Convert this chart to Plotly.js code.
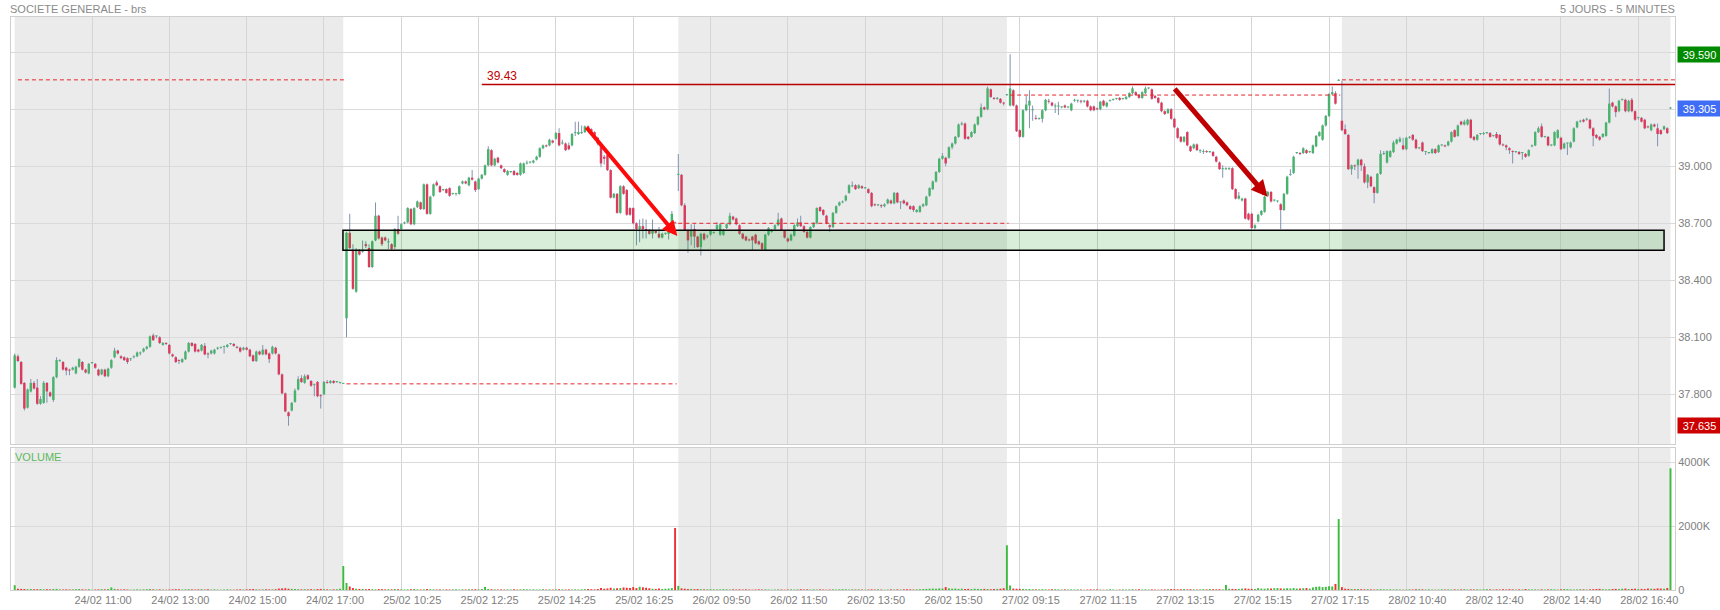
<!DOCTYPE html>
<html><head><meta charset="utf-8">
<script src="https://cdn.plot.ly/plotly-3.0.1.min.js"></script>
<style>html,body{margin:0;padding:0;background:#fff;}#chart{width:1720px;height:610px;}</style>
</head><body><div id="chart"></div>
<script>
// ---- data: 5-minute candles [open, high, low, close], one array per session ----
const bars2402 = [
[37.835,38.015,37.830,38.005],[38.000,38.010,37.970,37.975],[37.970,37.975,37.850,37.855],[37.860,37.865,37.715,37.725],[37.730,37.830,37.725,37.825],[37.815,37.880,37.810,37.860],[37.860,37.870,37.825,37.830],[37.835,37.880,37.745,37.750],[37.750,37.790,37.745,37.775],[37.755,37.870,37.750,37.860],
[37.860,37.865,37.755,37.815],[37.810,37.815,37.785,37.790],[37.770,37.895,37.760,37.890],[37.890,37.995,37.885,37.980],[37.975,37.985,37.970,37.980],[37.970,37.975,37.925,37.930],[37.940,37.945,37.900,37.925],[37.930,37.935,37.900,37.925],[37.930,37.945,37.925,37.940],[37.910,37.950,37.905,37.945],
[37.945,37.990,37.940,37.985],[37.970,37.975,37.925,37.930],[37.930,37.935,37.910,37.915],[37.910,37.965,37.905,37.960],[37.965,37.970,37.960,37.965],[37.960,37.965,37.935,37.940],[37.930,37.935,37.895,37.900],[37.905,37.935,37.900,37.930],[37.930,37.935,37.890,37.895],[37.895,37.940,37.890,37.935],
[37.940,37.985,37.935,37.980],[37.995,38.045,37.990,38.030],[38.030,38.035,38.010,38.015],[38.000,38.005,37.985,37.990],[37.995,38.000,37.975,37.980],[37.990,37.995,37.960,37.970],[37.985,37.990,37.975,37.985],[37.995,38.005,37.990,38.000],[38.000,38.025,37.995,38.020],[38.015,38.025,38.005,38.015],
[38.025,38.045,38.020,38.040],[38.040,38.055,38.035,38.050],[38.050,38.110,38.045,38.105],[38.110,38.120,38.080,38.085],[38.105,38.110,38.095,38.105],[38.100,38.105,38.065,38.070],[38.060,38.075,38.055,38.070],[38.070,38.075,38.060,38.065],[38.060,38.065,38.010,38.015],[38.010,38.015,37.995,38.000],
[37.995,38.000,37.965,37.970],[37.980,37.985,37.960,37.975],[37.970,37.990,37.965,37.985],[37.985,38.030,37.980,38.025],[38.025,38.075,38.020,38.070],[38.070,38.075,38.050,38.055],[38.065,38.070,38.020,38.025],[38.035,38.040,38.020,38.025],[38.030,38.065,38.025,38.060],[38.055,38.070,38.005,38.010],
[38.015,38.020,37.990,38.010],[38.015,38.035,38.010,38.030],[38.015,38.040,38.010,38.035],[38.040,38.050,38.035,38.045],[38.045,38.050,38.040,38.045],[38.050,38.055,38.015,38.050],[38.050,38.065,38.045,38.060],[38.065,38.070,38.060,38.065],[38.065,38.070,38.050,38.055],[38.050,38.055,38.040,38.045],
[38.045,38.050,38.020,38.025],[38.035,38.050,38.030,38.045],[38.045,38.050,38.030,38.035],[38.035,38.040,37.995,38.000],[38.005,38.010,37.970,37.975],[37.975,38.030,37.970,38.025],[38.025,38.030,38.005,38.010],[38.010,38.060,38.005,38.035],[38.035,38.040,38.005,38.010],[38.015,38.020,37.965,37.985],
[38.015,38.055,38.010,38.050],[38.045,38.050,38.010,38.015],[38.010,38.015,37.900,37.905],[37.905,37.910,37.800,37.805],[37.805,37.810,37.705,37.710],[37.705,37.710,37.635,37.685],[37.715,37.760,37.710,37.755],[37.760,37.830,37.755,37.820],[37.825,37.895,37.820,37.880],[37.885,37.900,37.860,37.865],
[37.860,37.905,37.855,37.895],[37.900,37.905,37.875,37.880],[37.870,37.875,37.840,37.845],[37.850,37.855,37.790,37.850],[37.865,37.870,37.785,37.790],[37.795,37.800,37.725,37.790],[37.800,37.870,37.795,37.865],[37.865,37.875,37.855,37.860],[37.860,37.875,37.855,37.870],[37.870,37.875,37.855,37.860],
[37.865,37.870,37.860,37.865],[37.860,37.865,37.855,37.860],[37.855,37.860,37.855,37.855]
];
const bars2502 = [
[38.200,38.655,38.100,38.650],[38.650,38.750,38.565,38.570],[38.560,38.590,38.350,38.355],[38.340,38.570,38.335,38.560],[38.560,38.565,38.530,38.535],[38.550,38.610,38.545,38.560],[38.590,38.605,38.570,38.580],[38.570,38.590,38.465,38.470],[38.470,38.610,38.465,38.605],[38.610,38.810,38.605,38.740],
[38.740,38.745,38.615,38.620],[38.625,38.630,38.580,38.590],[38.625,38.630,38.605,38.610],[38.600,38.620,38.565,38.600],[38.590,38.595,38.560,38.565],[38.575,38.675,38.565,38.670],[38.670,38.740,38.640,38.645],[38.670,38.700,38.665,38.695],[38.700,38.710,38.695,38.705],[38.705,38.785,38.700,38.780],
[38.775,38.780,38.690,38.695],[38.695,38.785,38.690,38.780],[38.785,38.820,38.780,38.815],[38.810,38.815,38.770,38.775],[38.775,38.910,38.770,38.905],[38.905,38.910,38.745,38.750],[38.750,38.845,38.745,38.840],[38.845,38.910,38.840,38.905],[38.915,38.925,38.895,38.900],[38.895,38.900,38.860,38.865],
[38.875,38.880,38.870,38.875],[38.880,38.885,38.855,38.860],[38.885,38.890,38.840,38.845],[38.855,38.860,38.850,38.855],[38.855,38.860,38.845,38.855],[38.855,38.900,38.850,38.895],[38.910,38.925,38.905,38.920],[38.920,38.925,38.905,38.910],[38.900,38.945,38.895,38.940],[38.940,38.980,38.925,38.930],
[38.920,38.925,38.865,38.875],[38.880,38.940,38.875,38.935],[38.935,38.960,38.930,38.955],[38.955,39.010,38.950,39.005],[39.005,39.105,39.000,39.090],[39.085,39.090,39.000,39.005],[39.005,39.045,39.000,39.040],[39.045,39.050,39.015,39.020],[39.005,39.010,38.985,38.990],[38.985,38.990,38.965,38.970],
[38.955,38.980,38.950,38.975],[38.970,38.975,38.965,38.970],[38.975,38.980,38.950,38.955],[38.965,38.970,38.950,38.955],[38.955,39.020,38.950,39.015],[38.965,39.020,38.960,39.015],[39.015,39.030,39.010,39.015],[39.020,39.025,39.015,39.020],[39.020,39.035,39.015,39.030],[39.035,39.055,39.030,39.050],
[39.050,39.100,39.045,39.095],[39.095,39.115,39.090,39.110],[39.110,39.115,39.100,39.105],[39.110,39.145,39.105,39.140],[39.135,39.140,39.120,39.125],[39.145,39.180,39.140,39.175],[39.175,39.200,39.105,39.110],[39.120,39.140,39.115,39.120],[39.120,39.125,39.080,39.085],[39.110,39.125,39.085,39.090],
[39.110,39.175,39.105,39.170],[39.175,39.235,39.160,39.175],[39.170,39.235,39.165,39.180],[39.175,39.215,39.170,39.175],[39.180,39.215,39.175,39.210],[39.210,39.215,39.195,39.200],[39.195,39.200,39.175,39.180],[39.180,39.185,39.145,39.150],[39.150,39.155,39.110,39.120],[39.120,39.125,38.995,39.015],
[39.050,39.060,39.010,39.040],[39.060,39.065,38.975,38.980],[38.980,38.985,38.830,38.835],[38.835,38.860,38.830,38.855],[38.855,38.860,38.750,38.755],[38.755,38.900,38.750,38.895],[38.895,38.900,38.850,38.855],[38.875,38.880,38.740,38.745],[38.780,38.785,38.740,38.745],[38.780,38.785,38.695,38.700],
[38.700,38.705,38.585,38.670],[38.670,38.720,38.600,38.685],[38.685,38.725,38.620,38.670],[38.670,38.720,38.620,38.665],[38.665,38.670,38.640,38.645],[38.645,38.720,38.620,38.660],[38.660,38.665,38.645,38.650],[38.645,38.680,38.620,38.625],[38.625,38.650,38.620,38.645],[38.645,38.650,38.640,38.645],
[38.645,38.680,38.615,38.665],[38.690,38.765,38.685,38.750],[38.705,38.710,38.700,38.700]
];
const bars2602 = [
[38.955,39.065,38.870,38.960],[38.955,38.960,38.790,38.795],[38.795,38.805,38.660,38.665],[38.665,38.670,38.545,38.610],[38.630,38.695,38.585,38.665],[38.670,38.695,38.570,38.630],[38.630,38.635,38.570,38.575],[38.575,38.650,38.530,38.645],[38.645,38.650,38.610,38.615],[38.630,38.640,38.620,38.635],
[38.640,38.665,38.635,38.660],[38.650,38.655,38.645,38.650],[38.670,38.705,38.665,38.690],[38.640,38.700,38.635,38.695],[38.640,38.670,38.635,38.665],[38.675,38.700,38.670,38.695],[38.695,38.755,38.690,38.740],[38.735,38.740,38.715,38.720],[38.725,38.730,38.690,38.695],[38.690,38.695,38.640,38.645],
[38.645,38.650,38.615,38.620],[38.630,38.635,38.605,38.610],[38.615,38.620,38.605,38.610],[38.630,38.635,38.560,38.610],[38.640,38.645,38.590,38.595],[38.605,38.610,38.585,38.590],[38.595,38.600,38.560,38.565],[38.560,38.645,38.555,38.640],[38.640,38.680,38.635,38.675],[38.655,38.670,38.650,38.665],
[38.670,38.695,38.665,38.690],[38.690,38.755,38.685,38.720],[38.725,38.730,38.660,38.665],[38.660,38.665,38.620,38.625],[38.620,38.625,38.600,38.605],[38.610,38.645,38.605,38.640],[38.635,38.695,38.630,38.690],[38.685,38.725,38.680,38.705],[38.705,38.740,38.680,38.685],[38.685,38.690,38.650,38.655],
[38.655,38.660,38.620,38.625],[38.625,38.685,38.620,38.680],[38.680,38.705,38.675,38.700],[38.700,38.785,38.695,38.780],[38.785,38.790,38.760,38.765],[38.770,38.775,38.740,38.745],[38.740,38.745,38.695,38.700],[38.690,38.695,38.655,38.680],[38.680,38.760,38.675,38.755],[38.755,38.795,38.750,38.790],
[38.795,38.815,38.790,38.810],[38.810,38.820,38.805,38.815],[38.820,38.850,38.815,38.845],[38.860,38.905,38.855,38.900],[38.895,38.920,38.890,38.900],[38.900,38.905,38.875,38.880],[38.885,38.905,38.880,38.900],[38.895,38.900,38.880,38.885],[38.885,38.890,38.880,38.885],[38.880,38.885,38.855,38.860],
[38.860,38.865,38.785,38.790],[38.800,38.805,38.790,38.795],[38.795,38.800,38.790,38.795],[38.795,38.800,38.780,38.790],[38.790,38.805,38.785,38.800],[38.805,38.830,38.800,38.825],[38.820,38.825,38.800,38.805],[38.805,38.865,38.800,38.860],[38.860,38.865,38.805,38.810],[38.810,38.815,38.775,38.810],
[38.820,38.825,38.800,38.805],[38.810,38.815,38.790,38.795],[38.790,38.795,38.770,38.775],[38.790,38.795,38.760,38.770],[38.760,38.775,38.755,38.770],[38.760,38.795,38.755,38.790],[38.790,38.805,38.785,38.800],[38.795,38.845,38.790,38.840],[38.845,38.890,38.840,38.885],[38.880,38.925,38.875,38.920],
[38.920,38.975,38.915,38.970],[38.970,39.045,38.965,39.040],[39.040,39.070,39.035,39.055],[39.045,39.050,39.000,39.015],[39.045,39.105,39.040,39.100],[39.100,39.125,39.090,39.120],[39.120,39.160,39.115,39.155],[39.155,39.225,39.150,39.220],[39.220,39.235,39.215,39.225],[39.225,39.230,39.140,39.145],
[39.155,39.160,39.140,39.145],[39.155,39.185,39.150,39.180],[39.175,39.225,39.170,39.220],[39.220,39.265,39.215,39.260],[39.260,39.330,39.255,39.310],[39.310,39.315,39.295,39.300],[39.300,39.420,39.295,39.410],[39.405,39.410,39.360,39.365],[39.360,39.365,39.350,39.355],[39.355,39.365,39.350,39.360],
[39.355,39.360,39.330,39.335],[39.335,39.340,39.320,39.330],[39.375,39.380,39.370,39.375]
];
const bars2702 = [
[39.320,39.590,39.315,39.410],[39.400,39.405,39.315,39.320],[39.320,39.325,39.180,39.185],[39.190,39.195,39.150,39.155],[39.155,39.300,39.150,39.295],[39.295,39.370,39.290,39.325],[39.320,39.400,39.200,39.345],[39.295,39.320,39.240,39.295],[39.255,39.270,39.245,39.250],[39.250,39.255,39.245,39.250],
[39.250,39.300,39.230,39.295],[39.295,39.355,39.290,39.350],[39.345,39.355,39.330,39.340],[39.335,39.340,39.315,39.320],[39.315,39.330,39.280,39.315],[39.315,39.340,39.270,39.315],[39.310,39.315,39.305,39.310],[39.320,39.325,39.305,39.310],[39.310,39.315,39.305,39.310],[39.295,39.335,39.290,39.330],
[39.345,39.355,39.340,39.345],[39.345,39.350,39.335,39.345],[39.345,39.350,39.330,39.340],[39.340,39.350,39.335,39.340],[39.345,39.350,39.310,39.315],[39.315,39.320,39.290,39.295],[39.315,39.320,39.290,39.295],[39.305,39.310,39.295,39.300],[39.300,39.345,39.295,39.340],[39.345,39.350,39.315,39.320],
[39.315,39.340,39.310,39.335],[39.345,39.350,39.340,39.345],[39.350,39.355,39.345,39.350],[39.355,39.360,39.350,39.355],[39.360,39.365,39.345,39.350],[39.355,39.360,39.350,39.355],[39.355,39.370,39.350,39.365],[39.365,39.390,39.360,39.385],[39.385,39.420,39.380,39.410],[39.390,39.395,39.370,39.375],
[39.375,39.380,39.355,39.360],[39.360,39.395,39.355,39.390],[39.385,39.420,39.380,39.410],[39.410,39.415,39.405,39.410],[39.405,39.410,39.350,39.355],[39.370,39.375,39.355,39.360],[39.360,39.365,39.330,39.335],[39.335,39.340,39.285,39.290],[39.290,39.295,39.270,39.275],[39.280,39.305,39.275,39.300],
[39.300,39.305,39.245,39.250],[39.250,39.255,39.200,39.205],[39.200,39.205,39.145,39.150],[39.155,39.160,39.125,39.130],[39.130,39.160,39.125,39.155],[39.180,39.185,39.105,39.110],[39.105,39.110,39.075,39.080],[39.095,39.120,39.090,39.115],[39.115,39.120,39.080,39.085],[39.080,39.090,39.070,39.080],
[39.075,39.090,39.065,39.075],[39.080,39.085,39.070,39.075],[39.075,39.080,39.070,39.075],[39.075,39.080,39.050,39.055],[39.050,39.055,39.020,39.025],[39.020,39.025,38.980,38.985],[38.985,39.005,38.940,38.990],[38.985,38.995,38.980,38.990],[38.985,38.995,38.980,38.990],[38.990,38.995,38.875,38.880],
[38.880,38.885,38.825,38.830],[38.830,38.865,38.825,38.845],[38.820,38.835,38.815,38.830],[38.830,38.835,38.720,38.725],[38.750,38.755,38.715,38.720],[38.750,38.755,38.670,38.675],[38.675,38.695,38.670,38.690],[38.710,38.750,38.705,38.745],[38.745,38.770,38.740,38.765],[38.760,38.845,38.755,38.840],
[38.845,38.870,38.840,38.865],[38.865,38.870,38.810,38.815],[38.820,38.825,38.815,38.820],[38.815,38.820,38.810,38.815],[38.800,38.805,38.670,38.770],[38.770,38.860,38.765,38.855],[38.855,38.950,38.850,38.945],[38.955,38.985,38.950,38.955],[38.965,39.055,38.960,39.050],[39.070,39.075,39.065,39.070],
[39.070,39.075,39.060,39.065],[39.070,39.100,39.065,39.095],[39.085,39.090,39.065,39.070],[39.075,39.080,39.070,39.075],[39.070,39.115,39.065,39.110],[39.105,39.165,39.100,39.160],[39.160,39.185,39.155,39.180],[39.140,39.220,39.135,39.215],[39.215,39.270,39.210,39.265],[39.265,39.385,39.260,39.380],
[39.380,39.420,39.375,39.390],[39.385,39.395,39.325,39.330],[39.450,39.460,39.450,39.455]
];
const bars2802 = [
[39.240,39.450,39.185,39.190],[39.195,39.220,39.165,39.170],[39.165,39.170,38.980,38.985],[38.985,39.010,38.955,39.005],[39.005,39.010,38.980,39.000],[39.005,39.040,38.935,39.035],[39.035,39.040,38.975,39.005],[39.000,39.015,38.910,38.915],[38.915,38.960,38.885,38.955],[38.945,38.950,38.890,38.895],
[38.890,38.895,38.805,38.860],[38.860,38.965,38.855,38.960],[38.960,39.085,38.955,39.065],[39.065,39.080,39.060,39.070],[39.020,39.085,39.015,39.080],[39.050,39.085,39.045,39.080],[39.075,39.135,39.070,39.125],[39.120,39.145,39.115,39.140],[39.130,39.155,39.125,39.145],[39.110,39.150,39.085,39.090],
[39.090,39.155,39.085,39.150],[39.150,39.160,39.145,39.155],[39.165,39.170,39.135,39.140],[39.140,39.145,39.090,39.095],[39.095,39.100,39.090,39.095],[39.125,39.130,39.075,39.080],[39.075,39.080,39.060,39.075],[39.070,39.075,39.065,39.070],[39.070,39.095,39.065,39.090],[39.090,39.095,39.065,39.070],
[39.075,39.115,39.070,39.110],[39.110,39.115,39.105,39.110],[39.110,39.115,39.100,39.105],[39.110,39.135,39.105,39.130],[39.130,39.185,39.125,39.180],[39.190,39.195,39.150,39.155],[39.160,39.220,39.155,39.215],[39.235,39.240,39.215,39.220],[39.220,39.245,39.215,39.235],[39.220,39.250,39.215,39.245],
[39.245,39.250,39.145,39.150],[39.155,39.160,39.135,39.140],[39.140,39.170,39.135,39.165],[39.170,39.175,39.165,39.170],[39.170,39.180,39.165,39.175],[39.175,39.180,39.170,39.175],[39.175,39.180,39.150,39.155],[39.160,39.165,39.155,39.160],[39.170,39.180,39.145,39.150],[39.165,39.170,39.110,39.115],
[39.115,39.120,39.105,39.110],[39.110,39.115,39.085,39.100],[39.095,39.100,39.065,39.085],[39.080,39.085,39.015,39.075],[39.075,39.080,39.070,39.075],[39.075,39.080,39.060,39.065],[39.070,39.075,39.035,39.070],[39.065,39.070,39.045,39.050],[39.055,39.090,39.050,39.085],[39.105,39.115,39.100,39.110],
[39.110,39.185,39.105,39.180],[39.180,39.210,39.175,39.200],[39.210,39.225,39.150,39.155],[39.155,39.160,39.150,39.155],[39.155,39.160,39.105,39.110],[39.110,39.115,39.105,39.110],[39.110,39.185,39.105,39.180],[39.150,39.195,39.145,39.190],[39.150,39.155,39.085,39.090],[39.095,39.125,39.090,39.120],
[39.120,39.125,39.060,39.120],[39.100,39.130,39.095,39.125],[39.130,39.205,39.125,39.200],[39.205,39.240,39.200,39.235],[39.235,39.245,39.230,39.240],[39.245,39.250,39.230,39.235],[39.245,39.255,39.240,39.245],[39.245,39.250,39.195,39.200],[39.200,39.205,39.105,39.160],[39.165,39.170,39.145,39.150],
[39.155,39.160,39.135,39.140],[39.155,39.175,39.150,39.170],[39.160,39.235,39.155,39.230],[39.230,39.410,39.225,39.330],[39.335,39.340,39.310,39.315],[39.315,39.320,39.260,39.285],[39.290,39.350,39.285,39.345],[39.350,39.355,39.345,39.350],[39.350,39.355,39.285,39.290],[39.290,39.350,39.285,39.345],
[39.350,39.360,39.285,39.290],[39.290,39.295,39.240,39.245],[39.255,39.260,39.245,39.255],[39.255,39.260,39.230,39.235],[39.245,39.250,39.195,39.200],[39.210,39.215,39.200,39.205],[39.190,39.225,39.185,39.220],[39.220,39.225,39.205,39.210],[39.200,39.225,39.105,39.170],[39.190,39.195,39.165,39.170],
[39.195,39.215,39.190,39.210],[39.200,39.205,39.170,39.175],[39.305,39.310,39.300,39.305]
];
// volumes in thousands of shares
const vol2402 = [150,40,35,30,25,30,20,25,30,20, 25,20,30,35,20,15,20,15,20,25, 30,20,15,25,10,15,20,25,20,30, 80,35,20,15,20,15,10,15,20,15, 20,25,35,20,15,20,15,10,15,20, 25,20,15,20,25,20,15,20,25,15, 20,15,20,15,10,15,20,15,10,15, 20,15,20,25,30,20,15,20,25,20, 20,25,45,50,55,40,35,30,25,20, 25,20,25,20,30,35,25,20,15,20, 25,40,750];
const vol2502 = [220,110,60,40,35,30,25,30,25,20, 30,25,20,25,20,30,25,20,15,20, 25,30,20,15,20,30,25,20,15,20, 15,20,15,20,25,15,20,15,25,20, 25,20,30,90,35,25,20,15,20,15, 20,15,20,15,20,25,20,15,20,15, 15,20,15,20,15,20,25,20,15,20, 15,20,15,20,25,30,25,20,30,60, 40,50,70,45,55,60,80,70,65,90, 60,100,85,70,55,40,35,50,30,40, 45,60,1940];
const vol2602 = [130,50,40,30,35,25,30,25,20,20, 25,20,15,20,25,20,15,20,15,20, 15,20,15,10,15,20,15,20,15,10, 15,20,15,10,15,20,15,20,25,15, 20,15,20,15,20,15,10,15,20,15, 20,25,20,15,20,15,20,15,10,15, 20,15,20,15,10,15,20,15,20,15, 20,25,20,15,20,25,30,35,40,45, 40,50,45,90,50,40,45,35,40,30, 35,30,40,35,30,35,30,25,30,35, 40,55,1400];
const vol2702 = [140,45,40,35,30,25,30,25,20,20, 25,20,15,20,25,20,15,20,15,20, 15,20,15,10,15,20,15,20,15,10, 15,20,15,10,15,20,15,20,25,15, 20,15,20,15,20,15,10,15,20,25, 30,25,20,25,30,20,25,20,15,20, 25,20,30,25,20,25,20,160,40,35, 30,35,45,50,40,35,30,60,45,40, 50,45,55,60,50,45,55,50,60,45, 50,55,60,45,80,100,110,90,100,120, 110,190,2220];
const vol2802 = [90,40,35,30,25,30,25,20,25,20, 15,20,25,20,15,20,15,20,15,10, 15,20,15,20,25,20,15,20,15,10, 15,20,15,20,15,20,15,20,25,15, 20,15,20,15,20,25,20,15,20,15, 20,15,25,20,15,20,15,30,20,15, 20,15,20,15,20,25,20,15,20,30, 25,20,15,20,25,20,15,20,25,30, 35,25,20,25,30,35,30,40,45,30, 35,40,30,35,30,45,40,35,50,45, 40,60,3810];

const prevClose = [39.455, 37.855, 38.700, 39.375, 39.455];   // reference close before each session
const tickIdx = [24,48,72,96,120,144,168,192,216,240,264,288,312,336,360,384,408,432,456,480,504];
const tickLabels = ['24/02 11:00','24/02 13:00','24/02 15:00','24/02 17:00','25/02 10:25','25/02 12:25','25/02 14:25','25/02 16:25',
  '26/02 09:50','26/02 11:50','26/02 13:50','26/02 15:50','27/02 09:15','27/02 11:15','27/02 13:15','27/02 15:15','27/02 17:15',
  '28/02 10:40','28/02 12:40','28/02 14:40','28/02 16:40'];
const priceTicks = [37.8, 38.1, 38.4, 38.7, 39.0, 39.3, 39.6];
const volTicks = [0, 2000, 4000];
const periodHigh = 39.590, lastPrice = 39.305, periodLow = 37.635;
const resistance = 39.43;
const supportZone = [38.558, 38.663];

// ---- build ----
const sessions = [bars2402, bars2502, bars2602, bars2702, bars2802];
const volSessions = [vol2402, vol2502, vol2602, vol2702, vol2802];
const perDay = 103;
const bars = [].concat(...sessions);
const vols = [].concat(...volSessions);
const idx = bars.map((b, i) => i);
const O = bars.map(b => b[0]), H = bars.map(b => b[1]), L = bars.map(b => b[2]), C = bars.map(b => b[3]);
const up = bars.map(b => b[3] >= b[0]);

const GREEN = '#49b26d', RED = '#da3b5c', WICK = '#7c90ad';
const xRange = [-1.15, 515.4];

const wick = {type:'bar', x: idx, base: L, y: H.map((h, i) => h - L[i]), width: 0.3,
  marker:{color: WICK}, xaxis:'x', yaxis:'y', hoverinfo:'skip'};
const body = {type:'bar', x: idx, base: O.map((o, i) => Math.min(o, C[i])),
  y: O.map((o, i) => Math.max(Math.abs(C[i] - o), 0.005)), width: 0.76,
  marker:{color: up.map(u => u ? GREEN : RED)}, xaxis:'x', yaxis:'y', hoverinfo:'skip'};
const volume = {type:'bar', x: idx, y: vols, width: 0.6,
  marker:{color: up.map(u => u ? '#3dbb3d' : '#f0302e')}, xaxis:'x', yaxis:'y2', hoverinfo:'skip'};

const shapes = [];
sessions.forEach((s, d) => {
  if (d % 2 === 0) {
    ['y domain', 'y2 domain'].forEach(yr => shapes.push({type:'rect', layer:'below', xref:'x', yref:yr,
      x0: d * perDay, x1: d * perDay + perDay - 1, y0: 0, y1: 1, fillcolor:'#ebebeb', line:{width:0}}));
  }
  const x0 = d === 0 ? 1 : d * perDay;
  const x1 = d === sessions.length - 1 ? xRange[1] : d * perDay + perDay - 0.5;
  shapes.push({type:'line', xref:'x', yref:'y', x0: x0, x1: x1, y0: prevClose[d], y1: prevClose[d],
    line:{color:'#e8262b', width:1, dash:'4px,3px'}});
});
shapes.push({type:'line', xref:'x', yref:'y', x0: 145, x1: xRange[1], y0: resistance, y1: resistance,
  line:{color:'#b80000', width:1.5}});
shapes.push({type:'rect', xref:'x', yref:'y', x0: 101.9, x1: 512, y0: supportZone[0], y1: supportZone[1],
  fillcolor:'rgba(0,140,0,0.15)', line:{color:'#000', width:1.5}});

const badge = (p, bg) => ({xref:'paper', yref:'y', x:1, y:p, xanchor:'left', yanchor:'middle', xshift:2,
  text: p.toFixed(3), showarrow:false, bgcolor:bg, width:41, height:13, borderpad:1,
  font:{size:11, color:'#fff'}});
const annotations = [
  {xref:'paper', yref:'paper', x:-0.0018, y:1.014, xanchor:'left', yanchor:'middle', showarrow:false,
    text:'SOCIETE GENERALE - brs', font:{size:11, color:'#8a8a8a'}},
  {xref:'paper', yref:'paper', x:1.0012, y:1.014, xanchor:'right', yanchor:'middle', showarrow:false,
    text:'5 JOURS - 5 MINUTES', font:{size:11, color:'#8a8a8a'}},
  {xref:'paper', yref:'paper', x:0.0012, y:0.2321, xanchor:'left', yanchor:'middle', showarrow:false,
    text:'VOLUME', font:{size:11, color:'#5cb85c'}},
  {xref:'x', yref:'y', x:146, y:resistance, xanchor:'left', yanchor:'bottom', showarrow:false,
    text: resistance.toFixed(2), font:{size:12, color:'#c00000'}},
  badge(periodHigh, '#008a00'), badge(lastPrice, '#3f6df5'), badge(periodLow, '#cc0000'),
  {xref:'x', yref:'y', axref:'x', ayref:'y', x:205.7, y:38.633, ax:177.1, ay:39.212, text:'',
    showarrow:true, arrowhead:2, arrowsize:0.75, arrowwidth:4, arrowcolor:'#ff0a0a', standoff:0},
  {xref:'x', yref:'y', axref:'x', ayref:'y', x:388.9, y:38.840, ax:359.7, ay:39.416, text:'',
    showarrow:true, arrowhead:2, arrowsize:0.65, arrowwidth:5, arrowcolor:'#c00000', standoff:0}
];
const lens = sessions.map(s => s.length).concat(volSessions.map(v => v.length));
if (lens.some(n => n !== perDay)) {
  annotations.push({xref:'paper', yref:'paper', x:0.5, y:0.5, showarrow:false, text:'LEN ' + lens.join(','), font:{size:20,color:'#f0f'}});
}

const axisFont = {family:'"Liberation Sans", Arial, sans-serif', size:11, color:'#808080'};
const layout = {
  width:1720, height:610, margin:{l:11, r:45, t:17, b:20},
  paper_bgcolor:'#ffffff', plot_bgcolor:'rgba(0,0,0,0)', showlegend:false, barmode:'overlay',
  font: axisFont,
  xaxis:{range:xRange, anchor:'y2', tickmode:'array', tickvals:tickIdx, ticktext:tickLabels, showgrid:true,
    gridcolor:'#d5d5d5', zeroline:false, showline:true, linecolor:'#cfcfcf', mirror:'all', ticks:'',
    ticklabelshift:11, tickfont:axisFont, fixedrange:true},
  yaxis:{domain:[0.2548, 1], range:[37.5384, 39.7858], side:'right', tickmode:'array', tickvals:priceTicks,
    ticktext:priceTicks.map(v => v.toFixed(3)), showgrid:true, gridcolor:'#dadada', zeroline:false,
    showline:true, linecolor:'#cfcfcf', mirror:true, ticks:'', tickfont:axisFont, fixedrange:true},
  yaxis2:{domain:[0, 0.2478], range:[0, 4445], side:'right', tickmode:'array', tickvals:volTicks,
    ticktext:volTicks.map(v => v === 0 ? '0' : v + 'K'), showgrid:true, gridcolor:'#dadada', zeroline:false,
    showline:true, linecolor:'#cfcfcf', mirror:true, ticks:'', tickfont:axisFont, fixedrange:true},
  shapes: shapes, annotations: annotations
};
Plotly.newPlot('chart', [wick, body, volume], layout, {staticPlot:true, displayModeBar:false});
</script></body></html>
